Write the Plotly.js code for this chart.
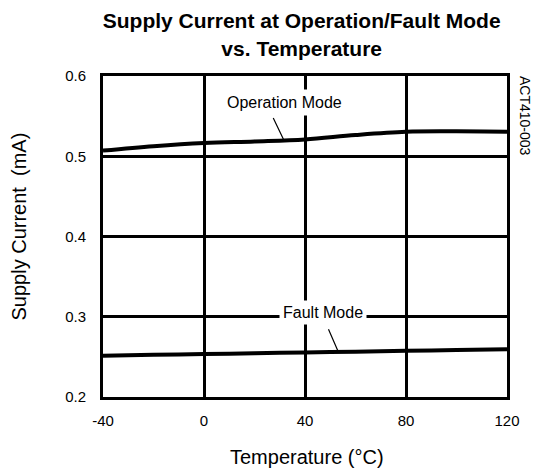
<!DOCTYPE html>
<html><head><meta charset="utf-8">
<script src="https://cdn.plot.ly/plotly-3.0.1.min.js"></script>
<style>html,body{margin:0;padding:0;background:#fff}</style>
</head><body>
<div id="chart" style="width:534px;height:472px"></div>
<script>
const temps = [-40, -20, 0, 20, 40, 60, 80, 100, 120];
const operationMode = [0.507, 0.5125, 0.5165, 0.5185, 0.521, 0.5265, 0.5305, 0.531, 0.5305];
const faultMode = [0.2515, 0.2525, 0.2535, 0.2545, 0.2555, 0.2565, 0.2575, 0.2585, 0.2595];
const xTicks = [-40, 0, 40, 80, 120];
const yTicks = [0.2, 0.3, 0.4, 0.5, 0.6];

const traces = [
  {x: temps, y: operationMode, mode: 'lines', line: {color: '#000', width: 4, shape: 'spline'}, name: 'Operation Mode'},
  {x: temps, y: faultMode, mode: 'lines', line: {color: '#000', width: 4, shape: 'spline'}, name: 'Fault Mode'}
];

const fam = 'Liberation Sans, Arial, sans-serif';
const font = {family: fam, color: '#000'};

const layout = {
  width: 534, height: 472,
  margin: {l: 103, r: 27, t: 76, b: 75},
  paper_bgcolor: '#fff', plot_bgcolor: '#fff',
  showlegend: false,
  font: font,
  title: {text: '<b>Supply Current at Operation/Fault Mode<br>vs. Temperature</b>', font: {family: fam, size: 21, color: '#000'}, x: 0.565, xanchor: 'center', yref: 'container', y: 0.94, yanchor: 'middle'},
  xaxis: {
    range: [-40, 120], tickvals: xTicks, ticktext: xTicks.map(String),
    showgrid: true, gridcolor: '#000', gridwidth: 3, zeroline: false,
    showline: true, linecolor: '#000', linewidth: 3, mirror: true,
    ticks: '', tickfont: {size: 15, family: fam, color: '#000'}, ticklabelstandoff: 8
  },
  yaxis: {
    range: [0.2, 0.6], tickvals: yTicks, ticktext: yTicks.map(v => v.toFixed(1)),
    showgrid: true, gridcolor: '#000', gridwidth: 3, zeroline: false,
    showline: true, linecolor: '#000', linewidth: 3, mirror: true,
    ticks: '', tickfont: {size: 15, family: fam, color: '#000'}, ticklabelstandoff: 11
  },
  annotations: [
    {x: 0.5, y: 0, xref: 'paper', yref: 'paper', text: 'Temperature (°C)', showarrow: false, xanchor: 'center', yanchor: 'middle', xshift: 2, yshift: -60, font: {size: 20, family: fam, color: '#000'}},
    {x: 0, y: 0.5, xref: 'paper', yref: 'paper', text: 'Supply Current\u00a0\u00a0(mA)', textangle: -90, showarrow: false, xanchor: 'center', yanchor: 'middle', xshift: -85, yshift: 10, font: {size: 20, family: fam, color: '#000'}},
    {x: 31.5, y: 0.521, xref: 'x', yref: 'y', text: '', showarrow: true, arrowhead: 0, arrowwidth: 1.2, arrowcolor: '#000', ax: -11, ay: -23},
    {x: 31.5, y: 0.521, xref: 'x', yref: 'y', text: 'Operation Mode', showarrow: false, xshift: 1, yshift: 37, bgcolor: '#fff', borderpad: 4, font: {size: 16, family: fam, color: '#000'}},
    {x: 53, y: 0.2575, xref: 'x', yref: 'y', text: '', showarrow: true, arrowhead: 0, arrowwidth: 1.2, arrowcolor: '#000', ax: -10, ay: -23},
    {x: 53, y: 0.2575, xref: 'x', yref: 'y', text: 'Fault Mode', showarrow: false, xshift: -15, yshift: 38, bgcolor: '#fff', borderpad: 3, font: {size: 16, family: fam, color: '#000'}},
    {x: 1, y: 1, xref: 'paper', yref: 'paper', xanchor: 'left', yanchor: 'top', xshift: 8, yshift: 2, text: 'ACT410-003', textangle: 90, showarrow: false, font: {size: 14, family: fam, color: '#000'}}
  ]
};

Plotly.newPlot('chart', traces, layout, {displayModeBar: false, staticPlot: true});
</script>
</body></html>
